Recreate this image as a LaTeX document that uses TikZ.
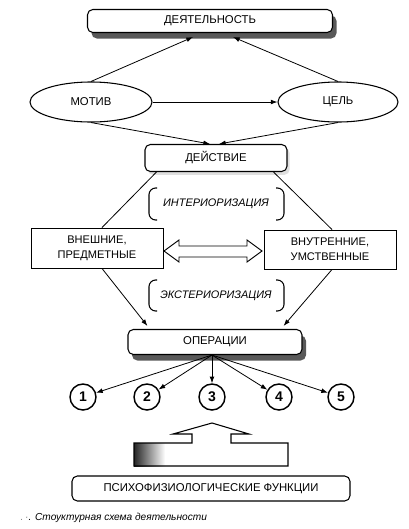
\documentclass[tikz,border=0pt]{standalone}
\usepackage{fontspec}
\setmainfont{Liberation Sans}
\usetikzlibrary{shapes.geometric,arrows.meta,shadows,calc}
\begin{document}
\begin{tikzpicture}[x=0.75pt,y=-0.75pt,
  txt/.style={font=\fontsize{8.5}{10}\selectfont},
  rbox/.style={draw, line width=0.8pt, rounded corners=4pt, fill=white, inner sep=0pt, txt},
  sbox/.style={draw, line width=0.7pt, fill=white, inner sep=0pt, align=center, font=\fontsize{8.3}{11}\selectfont},
  ell/.style={draw, ellipse, line width=0.8pt, inner sep=0pt, fill=white, txt},
  num/.style={draw, circle, line width=1.1pt, minimum size=26*0.75pt, inner sep=0pt, font=\bfseries\fontsize{10.5}{12}\selectfont},
  arr/.style={-{Latex[length=5pt,width=3.6pt]}, line width=0.6pt},
  ln/.style={line width=0.6pt},
  brk/.style={line width=0.8pt, rounded corners=5pt},
  lbl/.style={font=\itshape\fontsize{8.2}{10}\selectfont},
  shad/.style={drop shadow={shadow xshift=3pt, shadow yshift=-4.5pt, fill=black!65, opacity=1}}
]
\useasboundingbox (0,0) rectangle (408,529);

% nodes
\node[rbox, shad, minimum width=245*0.75pt, minimum height=23*0.75pt] (deyat) at (210,21) {ДЕЯТЕЛЬНОСТЬ};
\node[ell, minimum width=122*0.75pt, minimum height=40*0.75pt] (motiv) at (91,102) {МОТИВ};
\node[ell, minimum width=120*0.75pt, minimum height=40*0.75pt] (cel) at (338,102) {ЦЕЛЬ};
\node[rbox, drop shadow={shadow xshift=2pt, shadow yshift=-2.5pt, fill=black!25}, minimum width=142*0.75pt, minimum height=27*0.75pt] (deistv) at (216,158) {ДЕЙСТВИЕ};
\node[sbox, minimum width=132*0.75pt, minimum height=40*0.75pt] (vnesh) at (97,248) {ВНЕШНИЕ,\\ПРЕДМЕТНЫЕ};
\node[sbox, minimum width=132*0.75pt, minimum height=39*0.75pt] (vnutr) at (330,249.5) {ВНУТРЕННИЕ,\\УМСТВЕННЫЕ};
\node[rbox, shad, minimum width=174*0.75pt, minimum height=25*0.75pt] (oper) at (215,342) {ОПЕРАЦИИ};
\node[num] (c1) at (83,397) {1};
\node[num] (c2) at (147,397) {2};
\node[num] (c3) at (212,397) {3};
\node[num] (c4) at (279,397) {4};
\node[num] (c5) at (341,397) {5};
\node[rbox, minimum width=278*0.75pt, minimum height=25*0.75pt] (psy) at (211,488.5) {ПСИХОФИЗИОЛОГИЧЕСКИЕ ФУНКЦИИ};

\node[lbl] (inter) at (216,204) {ИНТЕРИОРИЗАЦИЯ};
\node[lbl] (exter) at (216,296) {ЭКСТЕРИОРИЗАЦИЯ};

% connectors
\draw[arr] (motiv.north) -- ($(deyat.south)+(-17,4)$);
\draw[arr] (cel.north) -- ($(deyat.south)+(23,4)$);
\draw[arr] (motiv.east) -- (cel.west);
\draw[arr] (motiv.south) -- ($(deistv.north)+(-6,0)$);
\draw[arr] (cel.south) -- ($(deistv.north)+(3,0)$);
\draw[ln] ($(deistv.south west)+(12,0)$) -- ($(vnesh.north)+(5,0)$);
\draw[ln] ($(deistv.south east)+(-14,0)$) -- ($(vnutr.north)+(2,0)$);
\draw[arr] ($(vnesh.south)+(5,0)$) -- ($(oper.north west)+(20,-3)$);
\draw[arr] ($(vnutr.south)+(2,0)$) -- ($(oper.north east)+(-19,-3)$);
\coordinate (os) at ($(oper.south)+(-3,0)$);
\foreach \c in {c1,c2,c3,c4,c5} \draw[arr] (os) -- (\c);

% brackets
\draw[brk] (157,188) -- (149,188) -- (149,220) -- (157,220);
\draw[brk] (276,188) -- (284,188) -- (284,220) -- (276,220);
\draw[brk] (157,280) -- (149,280) -- (149,311) -- (157,311);
\draw[brk] (276,280) -- (284,280) -- (284,311) -- (276,311);

% double hollow arrow
\draw[line width=0.7pt, line join=miter] (164,251) -- (179,240) -- (179,246) -- (247,246) -- (247,240) -- (262,251) -- (247,262) -- (247,257) -- (179,257) -- (179,262) -- cycle;

% big up arrow
\shade[left color=black!85, right color=white] (134,443) rectangle (165,466);
\draw[line width=0.8pt] (212,423) -- (249,434) -- (231,434) -- (231,443) -- (288,443) -- (288,466) -- (134,466) -- (134,443) -- (192,443) -- (192,434) -- (173,434) -- cycle;

% caption
\node[anchor=west, font=\itshape\fontsize{7.6}{9}\selectfont] (cap) at (16,518) {\textcolor{black!50}{.\,·}. Стоуктурная схема деятельности};
\end{tikzpicture}
\end{document}
